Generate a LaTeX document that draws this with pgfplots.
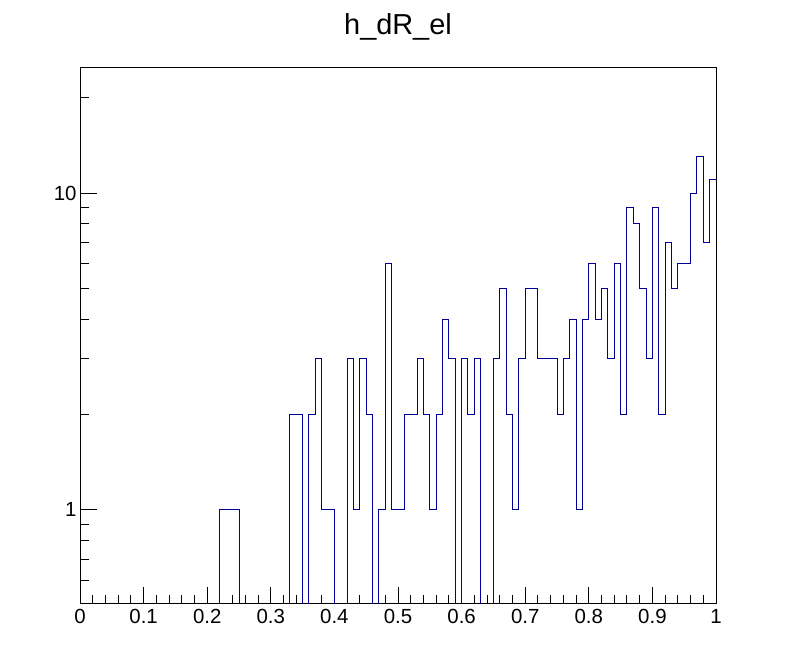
\documentclass[border=0pt]{standalone}
\usepackage{fontspec}
\setmainfont{Liberation Sans}
\usepackage{pgfplots}
\pgfplotsset{compat=1.18}
\definecolor{rootblue}{RGB}{0,0,153}

% h_dR_el: bin low edge, count (empty bins set below ymin so the line drops to the frame)
\pgfplotstableread{
x     n
0.00  0.01
0.01  0.01
0.02  0.01
0.03  0.01
0.04  0.01
0.05  0.01
0.06  0.01
0.07  0.01
0.08  0.01
0.09  0.01
0.10  0.01
0.11  0.01
0.12  0.01
0.13  0.01
0.14  0.01
0.15  0.01
0.16  0.01
0.17  0.01
0.18  0.01
0.19  0.01
0.20  0.01
0.21  0.01
0.22  1
0.23  1
0.24  1
0.25  0.01
0.26  0.01
0.27  0.01
0.28  0.01
0.29  0.01
0.30  0.01
0.31  0.01
0.32  0.01
0.33  2
0.34  2
0.35  0.01
0.36  2
0.37  3
0.38  1
0.39  1
0.40  0.01
0.41  0.01
0.42  3
0.43  1
0.44  3
0.45  2
0.46  0.01
0.47  1
0.48  6
0.49  1
0.50  1
0.51  2
0.52  2
0.53  3
0.54  2
0.55  1
0.56  2
0.57  4
0.58  3
0.59  0.01
0.60  3
0.61  2
0.62  3
0.63  0.01
0.64  0.01
0.65  3
0.66  5
0.67  2
0.68  1
0.69  3
0.70  5
0.71  5
0.72  3
0.73  3
0.74  3
0.75  2
0.76  3
0.77  4
0.78  1
0.79  4
0.80  6
0.81  4
0.82  5
0.83  3
0.84  6
0.85  2
0.86  9
0.87  8
0.88  5
0.89  3
0.90  9
0.91  2
0.92  7
0.93  5
0.94  6
0.95  6
0.96  10
0.97  13
0.98  7
0.99  11
1.00  11
}\hdrel

\begin{document}
\begin{tikzpicture}[x=1bp,y=1bp]
\path[use as bounding box] (0,0) rectangle (796,672);
\begin{axis}[
    at={(80bp,68bp)}, anchor=south west,
    scale only axis, width=636bp, height=536bp,
    xmin=0, xmax=1,
    ymode=log, ymin=0.505, ymax=24.8,
    axis line style={line width=1bp},
    tick align=inside,
    every tick/.style={black, line width=1bp},
    major tick length=17bp, minor tick length=9bp,
    xtick pos=bottom, ytick pos=left,
    xtick={0,0.1,0.2,0.3,0.4,0.5,0.6,0.7,0.8,0.9,1},
    xticklabels={0,0.1,0.2,0.3,0.4,0.5,0.6,0.7,0.8,0.9,1},
    minor x tick num=4,
    ytick={1,10}, yticklabels={1,10},
    minor ytick={0.6,0.7,0.8,0.9,2,3,4,5,6,7,8,9,20},
    tick label style={font=\fontsize{20.5}{24}\selectfont},
    x tick label style={yshift=-2bp},
    clip=true,
]
\addplot[const plot, rootblue, line width=1bp] table[x=x, y=n] {\hdrel};
\end{axis}
\node[anchor=base, font=\fontsize{29}{34}\selectfont] at (398,637) {h\_dR\_el};
\end{tikzpicture}
\end{document}
